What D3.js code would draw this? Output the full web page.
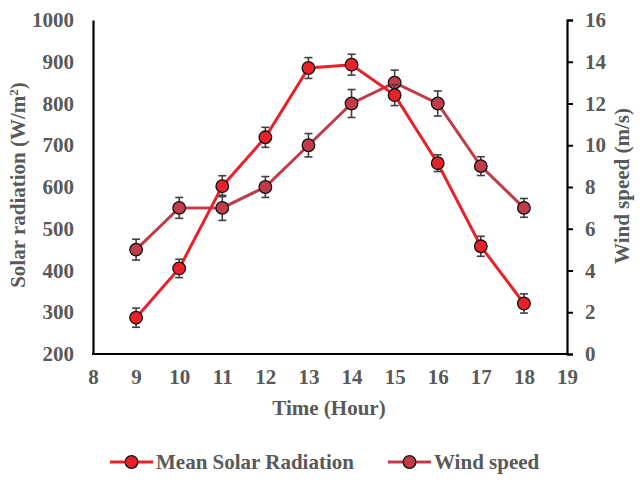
<!DOCTYPE html>
<html><head><meta charset="utf-8">
<script src="https://cdn.jsdelivr.net/npm/d3@7"></script>
<style>body{margin:0;background:#fff}svg{display:block}text{font-family:"Liberation Serif","Times New Roman",serif;font-weight:bold;fill:#595959}</style>
</head><body><svg id="c" width="640" height="481"></svg>
<script>
const hours = [9,10,11,12,13,14,15,16,17,18];
const solar = [287,405,602,719,885,893,820,657,458,321];
const solarErr = [23,22,25,24,25,25,25,20,24,23];
const wind = [5,7,7,8,10,12,13,12,9,7];
const windErr = [0.5,0.5,0.6,0.5,0.56,0.67,0.6,0.6,0.45,0.45];
const xTicks = [8,9,10,11,12,13,14,15,16,17,18,19];
const yLeftTicks = [200,300,400,500,600,700,800,900,1000];
const yRightTicks = [0,2,4,6,8,10,12,14,16];
const seriesNames = ["Mean Solar Radiation","Wind speed"];

const svg = d3.select("#c");
const L=93, R=567, T=20, B=354;
const FS=21;
const x = d3.scaleLinear().domain([8,19]).range([L,R]);
const yL = d3.scaleLinear().domain([200,1000]).range([B,T]);
const yR = d3.scaleLinear().domain([0,16]).range([B,T]);
const solarColor="#e8212b", windColor="#c03c4a", errColor="#404040";

// axes
const gx = svg.append("g").attr("transform",`translate(0,${B})`)
  .call(d3.axisBottom(x).tickValues(xTicks).tickSize(0).tickPadding(15).tickFormat(d3.format("d")));
const gl = svg.append("g").attr("transform",`translate(${L},0)`)
  .call(d3.axisLeft(yL).tickValues(yLeftTicks).tickSize(0).tickPadding(19).tickFormat(d3.format("d")));
const gr = svg.append("g").attr("transform",`translate(${R},0)`)
  .call(d3.axisRight(yR).tickValues(yRightTicks).tickSize(6).tickPadding(12).tickFormat(d3.format("d")));
[gx,gl,gr].forEach(g=>{
  g.select(".domain").attr("stroke","#000").attr("stroke-width",2.2);
  g.selectAll(".tick line").attr("stroke","#000").attr("stroke-width",2);
  g.selectAll(".tick text").attr("font-size",FS).attr("fill","#595959").attr("font-family","Liberation Serif");
});
gx.selectAll(".domain").attr("d",`M${L-1},0H${R+1}`);

// titles
svg.append("text").attr("x",(L+R)/2-1).attr("y",415).attr("text-anchor","middle").attr("font-size",FS).text("Time (Hour)");
const lt = svg.append("text").attr("transform",`translate(25,${(T+B)/2-2}) rotate(-90)`).attr("text-anchor","middle").attr("font-size",FS);
lt.append("tspan").text("Solar radiation (W/m");
lt.append("tspan").attr("font-size",13).attr("dy",-7).text("2");
lt.append("tspan").attr("dy",7).text(")");
svg.append("text").attr("transform",`translate(629,${(T+B)/2-1}) rotate(-90)`).attr("text-anchor","middle").attr("font-size",FS).text("Wind speed (m/s)");

function drawSeries(vals, errs, y, color){
  const g = svg.append("g");
  g.append("path").datum(hours.map((h,i)=>[h,vals[i]]))
    .attr("fill","none").attr("stroke",color).attr("stroke-width",3)
    .attr("d",d3.line().x(d=>x(d[0])).y(d=>y(d[1])));
  const eb = g.selectAll(".eb").data(hours).enter().append("g").attr("stroke",errColor).attr("stroke-width",1.6);
  eb.append("line").attr("x1",d=>x(d)).attr("x2",d=>x(d)).attr("y1",(d,i)=>y(vals[i]-errs[i])).attr("y2",(d,i)=>y(vals[i]+errs[i]));
  eb.append("line").attr("x1",d=>x(d)-4).attr("x2",d=>x(d)+4).attr("y1",(d,i)=>y(vals[i]-errs[i])).attr("y2",(d,i)=>y(vals[i]-errs[i]));
  eb.append("line").attr("x1",d=>x(d)-4).attr("x2",d=>x(d)+4).attr("y1",(d,i)=>y(vals[i]+errs[i])).attr("y2",(d,i)=>y(vals[i]+errs[i]));
  g.selectAll("circle").data(hours).enter().append("circle")
    .attr("cx",d=>x(d)).attr("cy",(d,i)=>y(vals[i])).attr("r",6.3)
    .attr("fill",color).attr("stroke","#111").attr("stroke-width",1.3);
}
drawSeries(wind, windErr, yR, windColor);
drawSeries(solar, solarErr, yL, solarColor);

// legend
const legend = [{name:seriesNames[0],color:solarColor,x:110},{name:seriesNames[1],color:windColor,x:388}];
legend.forEach(l=>{
  const g = svg.append("g").attr("transform",`translate(${l.x},462)`);
  g.append("line").attr("x1",0).attr("x2",43).attr("stroke",l.color).attr("stroke-width",3);
  g.append("circle").attr("cx",21.5).attr("r",6.3).attr("fill",l.color).attr("stroke","#111").attr("stroke-width",1.3);
  g.append("text").attr("x",46).attr("y",7).attr("font-size",FS).text(l.name);
});
</script></body></html>
